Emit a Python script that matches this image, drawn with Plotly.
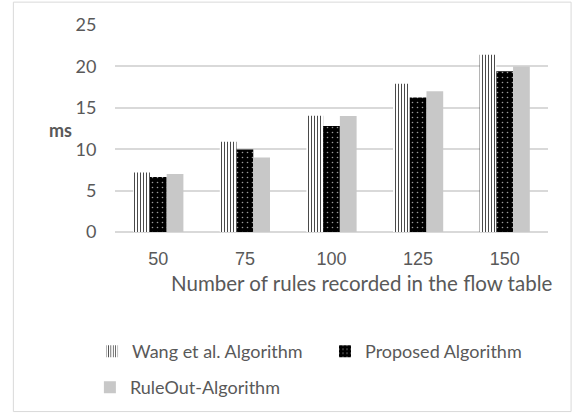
import plotly.graph_objects as go

# Flow-table rule counts and lookup time (ms) per algorithm
rule_counts = ["50", "75", "100", "125", "150"]
wang_ms = [7.2, 10.9, 14.05, 17.9, 21.4]
proposed_ms = [6.65, 9.95, 12.8, 16.25, 19.4]
ruleout_ms = [7.0, 9.0, 14.0, 17.0, 20.0]

y_ticks = [0, 5, 10, 15, 20, 25]

TXT = "#595959"
LEG_FONT = dict(size=18, family="Lato, sans-serif", color=TXT)

fig = go.Figure()

fig.add_trace(go.Bar(
    x=rule_counts, y=wang_ms, name="Wang et al. Algorithm",
    legend="legend",
    marker=dict(
        color="white",
        line=dict(width=0),
        pattern=dict(shape="|", size=3, solidity=0.35,
                     fgcolor="#4a4a4a", bgcolor="white", fillmode="replace"),
    ),
))
fig.add_trace(go.Bar(
    x=rule_counts, y=proposed_ms, name="Proposed Algorithm",
    legend="legend2",
    marker=dict(
        color="black",
        line=dict(width=0),
        pattern=dict(shape=".", size=5, solidity=0.08,
                     fgcolor="#9a9a9a", bgcolor="black", fillmode="replace"),
    ),
))
fig.add_trace(go.Bar(
    x=rule_counts, y=ruleout_ms, name="RuleOut-Algorithm",
    legend="legend3",
    marker=dict(color="#c8c8c8", line=dict(width=0)),
))

# outer frame of the chart
fig.add_shape(type="rect", xref="paper", yref="paper",
              x0=-0.2347, x1=1.0533, y0=-0.8675, y1=1.1105,
              line=dict(color="#d9d9d9", width=1), fillcolor="rgba(0,0,0,0)",
              layer="below")


def legend_box(x, y):
    return dict(orientation="h", x=x, xanchor="left", y=y, yanchor="middle",
                font=LEG_FONT, bgcolor="rgba(0,0,0,0)")


fig.update_layout(
    width=572, height=416,
    margin=dict(l=115, r=24, t=25, b=183),
    paper_bgcolor="white", plot_bgcolor="white",
    barmode="group", bargap=0.42, bargroupgap=0,
    font=dict(family="Liberation Sans, Arial, sans-serif", color=TXT),
    xaxis=dict(
        showgrid=False, showline=False,
        ticks="outside", ticklen=10, tickcolor="rgba(0,0,0,0)",
        tickfont=dict(size=18, color=TXT),
    ),
    yaxis=dict(
        range=[0, 25], tickvals=y_ticks,
        showgrid=True, gridcolor="#d9d9d9", gridwidth=1.5,
        zeroline=True, zerolinecolor="#d9d9d9", zerolinewidth=1.5,
        showline=False, ticks="outside", ticklen=14, tickcolor="rgba(0,0,0,0)",
        tickfont=dict(size=18, family="Lato, sans-serif", color=TXT),
        title=None,
    ),
    legend=legend_box(-0.053, -0.570),
    legend2=legend_box(0.485, -0.570),
    legend3=legend_box(-0.058, -0.743),
    showlegend=True,
)

fig.add_annotation(text="<b>ms</b>", xref="paper", yref="paper",
                   x=-0.157, y=0.495, showarrow=False,
                   font=dict(size=18, family="Lato, sans-serif", color=TXT))

fig.add_annotation(text="Number of rules recorded in the flow table",
                   xref="paper", yref="paper", x=0.570, y=-0.248,
                   xanchor="center", yanchor="middle", showarrow=False,
                   font=dict(size=20.5, family="Lato, sans-serif", color=TXT))

fig.write_html("out.html")
